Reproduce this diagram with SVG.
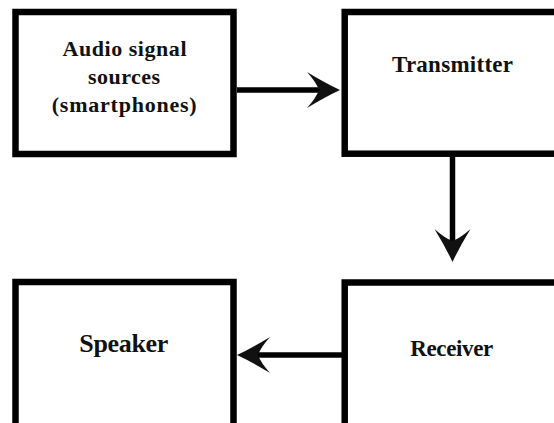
<svg xmlns="http://www.w3.org/2000/svg" width="554" height="423" viewBox="0 0 554 423">
  <style>
    .box { fill: #ffffff; stroke: #000000; stroke-width: 6.5; }
    .lbl { font-family: 'Liberation Serif', serif; font-weight: 700; fill: #111111; text-anchor: middle; }
    .conn { fill: none; stroke: #000000; stroke-width: 5.5; }
  </style>
  <defs>
    <marker id="arrow" viewBox="-34 -20 35 40" refX="-20" refY="0" markerWidth="35" markerHeight="40" markerUnits="userSpaceOnUse" orient="auto">
      <path d="M0,0 Q-15,-7 -33,-18 Q-24,-8 -21,0 Q-24,8 -33,18 Q-15,7 0,0 Z" fill="#111111"/>
    </marker>
  </defs>
  <rect x="0" y="0" width="554" height="423" fill="#ffffff"/>
  <g id="connectors">
    <path class="conn" d="M237,90 L320,90" marker-end="url(#arrow)"/>
    <path class="conn" d="M452.5,157 L452.5,242" marker-end="url(#arrow)"/>
    <path class="conn" d="M342,355 L257,355" marker-end="url(#arrow)"/>
  </g>
  <g id="audio">
    <rect class="box" x="15.5" y="12" width="218" height="142"/>
    <text class="lbl" x="124.5" y="55.5" font-size="22" textLength="124" lengthAdjust="spacing">Audio signal</text>
    <text class="lbl" x="124" y="83.5" font-size="22" textLength="72" lengthAdjust="spacing">sources</text>
    <text class="lbl" x="124.2" y="111.5" font-size="22" textLength="145" lengthAdjust="spacing">(smartphones)</text>
  </g>
  <g id="transmitter">
    <rect class="box" x="344.7" y="12" width="230" height="141.7"/>
    <text class="lbl" x="452.5" y="72" font-size="23" textLength="121" lengthAdjust="spacing">Transmitter</text>
  </g>
  <g id="speaker">
    <rect class="box" x="15.5" y="282" width="218" height="160"/>
    <text class="lbl" x="123.8" y="352" font-size="26" textLength="89" lengthAdjust="spacing">Speaker</text>
  </g>
  <g id="receiver">
    <rect class="box" x="344.7" y="282.5" width="230" height="160"/>
    <text class="lbl" x="451.7" y="355.5" font-size="23" textLength="83" lengthAdjust="spacing">Receiver</text>
  </g>
</svg>
